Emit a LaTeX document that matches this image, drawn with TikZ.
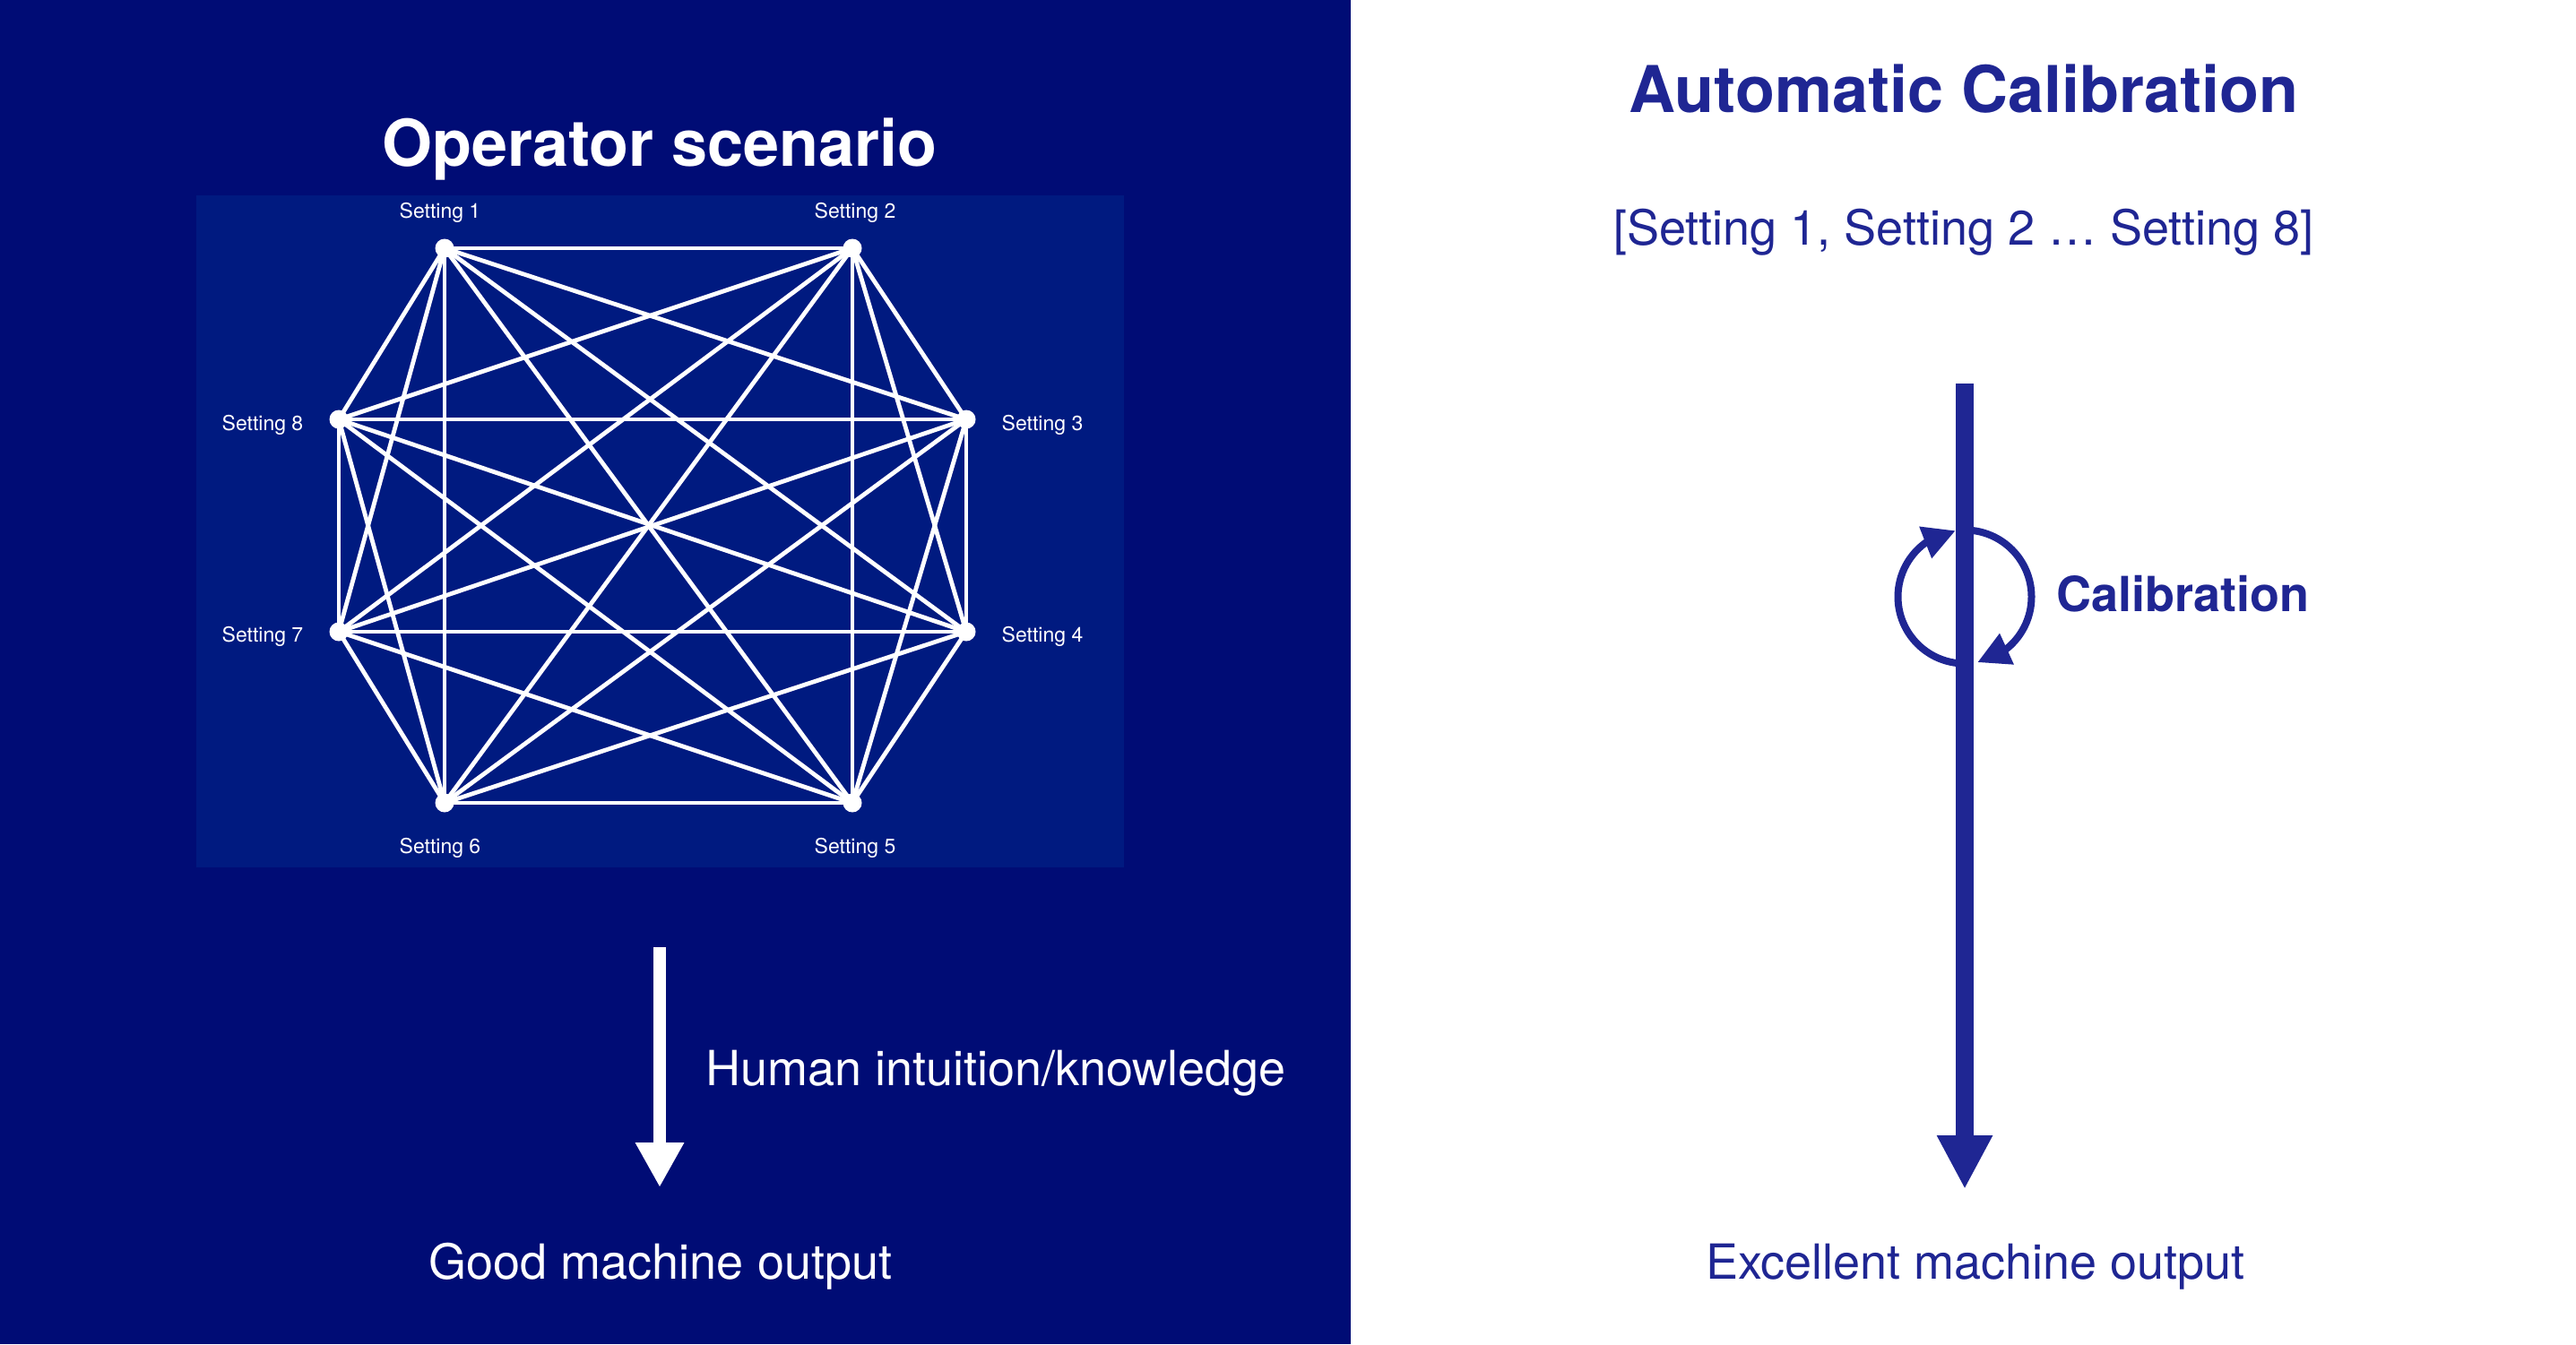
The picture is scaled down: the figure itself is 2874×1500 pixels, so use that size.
\documentclass[tikz,border=0pt]{standalone}
\usepackage{fontspec}
\setmainfont{TeX Gyre Heros}
\usetikzlibrary{arrows.meta,bending}
\definecolor{navy}{HTML}{000C75}
\definecolor{innerblue}{HTML}{001A80}
\definecolor{ink}{HTML}{1F2693}
\begin{document}
\begin{tikzpicture}[x=1pt,y=-1pt,
  edge/.style={white, line width=4.8pt},
  dot/.style={circle, fill=white, inner sep=0pt, minimum size=21pt},
  lbl/.style={text=white, font=\fontsize{23}{27}\selectfont, anchor=base, inner sep=0pt},
  titletext/.style={font=\bfseries\fontsize{72}{86}\selectfont, anchor=base, inner sep=0pt},
  bodytext/.style={font=\fontsize{54}{64}\selectfont, anchor=base, inner sep=0pt},
  boldtext/.style={font=\bfseries\fontsize{54}{64}\selectfont, anchor=base west, inner sep=0pt}]
\useasboundingbox (0,0) rectangle (2874,1500);
\fill[white] (0,0) rectangle (2874,1500);
\fill[navy] (0,0) rectangle (1507,1500);
\fill[innerblue] (219,218) rectangle (1254,968);
% graph vertices
\coordinate (c1) at (496,277);
\coordinate (c2) at (951,277);
\coordinate (c3) at (1078,468);
\coordinate (c4) at (1078,705);
\coordinate (c5) at (951,896);
\coordinate (c6) at (496,896);
\coordinate (c7) at (378,705);
\coordinate (c8) at (378,468);
\foreach \i in {1,...,7}{
  \pgfmathtruncatemacro{\nx}{\i+1}
  \foreach \j in {\nx,...,8}{
    \draw[edge] (c\i) -- (c\j);
  }
}
\foreach \i in {1,...,8}{
  \node[dot] (s\i) at (c\i) {};
}
% vertex labels
\node[lbl] (l1) at (491,243) {Setting 1};
\node[lbl] (l2) at (954,243) {Setting 2};
\node[lbl] (l3) at (1163,480) {Setting 3};
\node[lbl] (l4) at (1163,716) {Setting 4};
\node[lbl] (l5) at (954,952) {Setting 5};
\node[lbl] (l6) at (491,952) {Setting 6};
\node[lbl] (l7) at (293,716) {Setting 7};
\node[lbl] (l8) at (293,480) {Setting 8};
% left panel texts
\node[titletext, text=white] (t1) at (736,185) {Operator scenario};
\coordinate (ltop) at (736,1057);
\coordinate (lbot) at (736,1325);
\draw[white, line width=13.5pt, -{Triangle[length=50pt,width=51pt]}] (ltop) -- (lbot);
\node[bodytext, text=white, anchor=base west] (hk) at (787,1211) {Human intuition/knowledge};
\node[bodytext, text=white] (gm) at (737,1427) {Good machine output};
% right panel
\node[titletext, text=ink] (t2) at (2191,125) {Automatic Calibration};
\node[bodytext, text=ink] (br) at (2191,273) {[Setting 1, Setting 2 … Setting 8]};
\coordinate (atop) at (2192,428);
\coordinate (abot) at (2192,1327);
\draw[ink, line width=20pt, -{Triangle[length=60pt,width=58pt]}] (atop) -- (abot);
\coordinate (cc) at (2192,666);
\draw[ink, line width=8pt, -{Triangle[length=36pt,width=36pt]}] ([shift={(90:74.5)}]cc) arc[start angle=90, end angle=262, radius=74.5];
\draw[ink, line width=8pt, -{Triangle[length=36pt,width=36pt]}] ([shift={(270:74.5)}]cc) arc[start angle=270, end angle=439, radius=74.5];
\node[boldtext, text=ink] (cal) at (2294,682) {Calibration};
\node[bodytext, text=ink] (em) at (2204,1427) {Excellent machine output};
\end{tikzpicture}
\end{document}
